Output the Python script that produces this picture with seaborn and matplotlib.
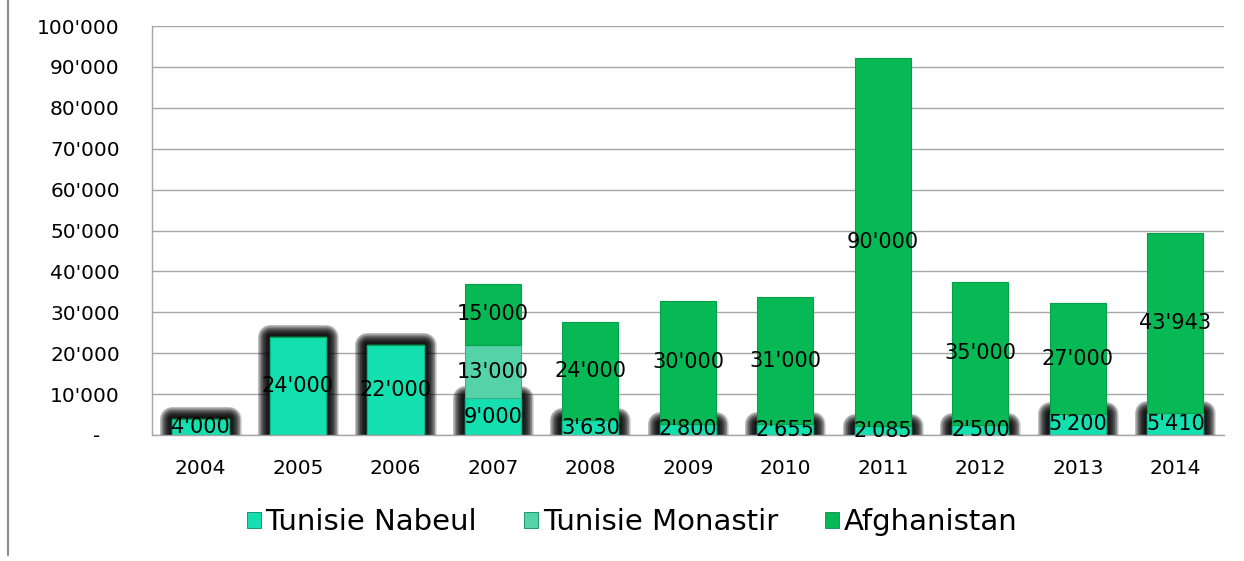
import matplotlib
matplotlib.use('Agg')
import matplotlib.pyplot as plt
import matplotlib.patheffects as pe
from matplotlib.lines import Line2D
from matplotlib.ticker import FuncFormatter, MultipleLocator
import numpy as np
import pandas as pd
import seaborn as sns

# Data
years = ['2004', '2005', '2006', '2007', '2008', '2009', '2010',
         '2011', '2012', '2013', '2014']
nabeul = [4000, 24000, 22000, 9000, 3630, 2800, 2655, 2085, 2500, 5200, 5410]
monastir = [0, 0, 0, 13000, 0, 0, 0, 0, 0, 0, 0]
afghanistan = [0, 0, 0, 15000, 24000, 30000, 31000, 90000, 35000, 27000, 43943]

series_names = ['Tunisie Nabeul', 'Tunisie Monastir', 'Afghanistan']
colors = ['#14dfae', '#55d3a8', '#07b954']

df = pd.DataFrame({'Year': years, 'Nabeul': nabeul,
                   'Monastir': monastir, 'Afghanistan': afghanistan})
df['base_af'] = df.Nabeul + df.Monastir

sns.set_style('white')
plt.rcParams['font.family'] = ['DejaVu Sans']
plt.rcParams['text.color'] = 'black'
plt.rcParams['xtick.color'] = 'black'
plt.rcParams['ytick.color'] = 'black'


def fmt(v):
    if v == 0:
        return '-   '
    return f'{v:,.0f}'.replace(',', "'")


fig = plt.figure(figsize=(12.44, 5.61), dpi=100)
ax = fig.add_axes([0.122, 0.2246, 0.862, 0.729])

bw = 0.575
# soft black glow around the Nabeul bars
shadow = [pe.withStroke(linewidth=lw, foreground='black', alpha=0.14,
                        joinstyle='round')
          for lw in np.arange(18, 3, -1.0)] + [pe.Normal()]

# Nabeul (bottom)
sns.barplot(data=df, x='Year', y='Nabeul', order=years, color=colors[0],
            width=bw, saturation=1, ax=ax, zorder=2, edgecolor='#0fb58c',
            linewidth=0.8)
for p in list(ax.patches):
    p.set_path_effects(shadow)

# Monastir (stacked on Nabeul)
sns.barplot(data=df, x='Year', y='Monastir', order=years, color=colors[1],
            width=bw, saturation=1, ax=ax, zorder=3, bottom=df.Nabeul.values,
            edgecolor='#3fae8a', linewidth=0.8)

# Afghanistan (stacked on top)
sns.barplot(data=df, x='Year', y='Afghanistan', order=years, color=colors[2],
            width=bw, saturation=1, ax=ax, zorder=4, bottom=df.base_af.values,
            edgecolor='#05a048', linewidth=0.8)

# data labels
for i, y in enumerate(years):
    segs = [(nabeul[i], 0), (monastir[i], nabeul[i]),
            (afghanistan[i], nabeul[i] + monastir[i])]
    for val, base in segs:
        if val:
            ax.text(i, base + val / 2, fmt(val), ha='center', va='center',
                    fontsize=15, color='black', zorder=6)

ax.set_ylim(0, 100000)
ax.set_xlim(-0.5, len(years) - 0.5)
ax.yaxis.set_major_locator(MultipleLocator(10000))
ax.yaxis.set_major_formatter(FuncFormatter(lambda v, _: fmt(v)))
ax.set_xlabel('')
ax.set_ylabel('')
ax.grid(axis='y', color='#a6a6a6', linewidth=1.0, zorder=0)
ax.set_axisbelow(True)
for s in ['top', 'right']:
    ax.spines[s].set_visible(False)
for s in ['left', 'bottom']:
    ax.spines[s].set_color('#a6a6a6')
    ax.spines[s].set_linewidth(1.0)
ax.tick_params(axis='y', length=0, pad=23, labelsize=14.5)
ax.tick_params(axis='x', length=0, pad=17, labelsize=14.5)

# legend
handles = [plt.Rectangle((0, 0), 1, 1, facecolor=c, edgecolor='#0a8a5a',
                         linewidth=0.6) for c in colors]
fig.legend(handles, series_names, loc='center', bbox_to_anchor=(0.508, 0.069),
           ncol=3, frameon=False, fontsize=21, handlelength=0.5,
           handleheight=0.5, handletextpad=0.15, columnspacing=1.6)

# left border line of the figure frame
fig.add_artist(Line2D([8 / 1244, 8 / 1244], [0.01, 1.0], color='#8c8c8c',
                      linewidth=1.5))

fig.savefig('out.png', dpi=100)
